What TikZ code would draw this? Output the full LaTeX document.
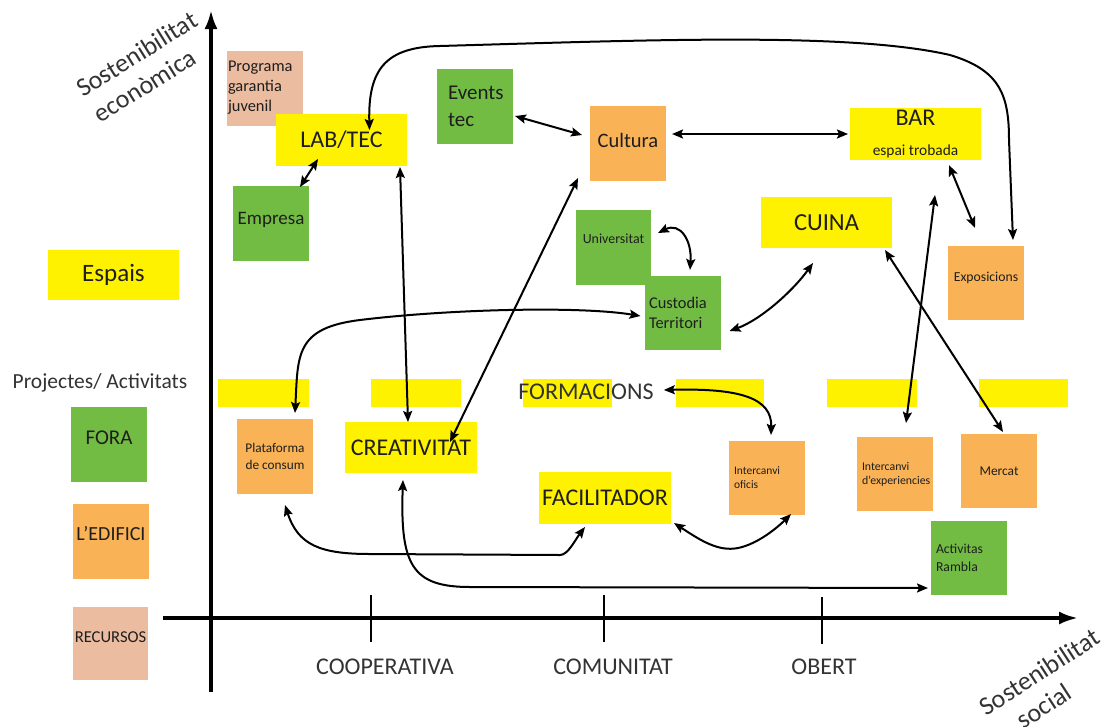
\documentclass[tikz,border=0pt]{standalone}
\usepackage{fontspec}
\setmainfont{Carlito}
\usetikzlibrary{arrows.meta,calc}
\definecolor{ylw}{HTML}{FFF200}
\definecolor{grn}{HTML}{72BC44}
\definecolor{org}{HTML}{F9B256}
\definecolor{pnk}{HTML}{ECBCA0}
\definecolor{txt}{HTML}{1E1E1E}
\definecolor{axtxt}{HTML}{333333}
\begin{document}
\begin{tikzpicture}[x=1pt,y=-1pt,
  every node/.style={text=txt},
  card/.style={inner sep=0pt, outer sep=0pt, minimum width=76pt, minimum height=75pt, align=center},
  wide/.style={inner sep=0pt, outer sep=0pt, minimum width=131pt, minimum height=52pt, fill=ylw, align=center},
  strip/.style={inner sep=0pt, outer sep=0pt, fill=ylw, minimum height=28pt},
  leftcard/.style={card, align=left},
  link/.style={draw=black, line width=2pt, {Stealth[length=11pt,width=9pt,inset=2pt]}-{Stealth[length=11pt,width=9pt,inset=2pt]}},
  axis/.style={line width=3.5pt, -{Latex[length=19pt,width=13pt]}},
  axtick/.style={line width=2.7pt},
  axlabel/.style={text=axtxt, font=\fontsize{24}{28}\selectfont}
]
\fill[white] (0,0) rectangle (1105,726);
\useasboundingbox (0,0) rectangle (1105,726);

% ---------- legend ----------
\node[wide, minimum height=50pt, font=\fontsize{25}{30}\selectfont] (espais) at (113.5,275) {Espais};
\node[text=axtxt, font=\fontsize{21.5}{26}\selectfont] (proj) at (100,383) {Projectes/ Activitats};
\node[card, fill=grn, font=\fontsize{21}{25}\selectfont, text depth=13pt] (fora) at (109,444.5) {FORA};
\node[card, fill=org, font=\fontsize{20}{24}\selectfont, text depth=17pt] (edif) at (111,541.5) {L’EDIFICI};
\node[card, fill=pnk, minimum width=75pt, minimum height=73pt, font=\fontsize{16.6}{20}\selectfont, text depth=13pt] (recur) at (110.5,643.5) {RECURSOS};

% ---------- axis titles ----------
\node[rotate=32, align=center, text=axtxt, font=\fontsize{26}{31}\selectfont] (ytitle) at (145,67) {Sostenibilitat\\econòmica\hspace*{20pt}};
\node[rotate=33, align=center, text=axtxt, font=\fontsize{26}{31}\selectfont] (xtitle) at (1048,685) {Sostenibilitat\\social\hspace*{30pt}};

% ---------- strips ----------
\node[strip, minimum width=91pt] (s1) at (263.5,393) {};
\node[strip, minimum width=90pt] (s2) at (416,393) {};
\node[strip, minimum width=89pt] (s3) at (567.5,393) {};
\node[strip, minimum width=88pt] (s4) at (720,393) {};
\node[strip, minimum width=90pt] (s5) at (872,393) {};
\node[strip, minimum width=89pt] (s6) at (1023.5,393) {};
\node[inner sep=0pt, text=axtxt, font=\fontsize{24}{28}\selectfont] (form) at (586,392) {FORMACIONS};

% ---------- main boxes ----------
\node[leftcard, fill=pnk, text width=74pt, inner xsep=1pt, font=\fontsize{16.4}{20}\selectfont] (prog) at (265,88) {Programa\\garantia\\juvenil};
\node[wide, font=\fontsize{24}{28}\selectfont] (lab) at (341.5,140) {LAB/TEC};
\node[card, fill=grn, font=\fontsize{19}{23}\selectfont, text depth=11pt] (emp) at (271,223.5) {Empresa};
\node[leftcard, fill=grn, text width=54pt, inner xsep=11pt, font=\fontsize{21}{27}\selectfont] (ev) at (475,106.5) {Events\\tec};
\node[card, fill=org, font=\fontsize{20.5}{24}\selectfont, text depth=6pt] (cult) at (628,143) {Cultura};
\node[wide, font=\fontsize{15.4}{30}\selectfont] (bar) at (915.5,134) {{\fontsize{24}{30}\selectfont BAR}\\espai trobada};
\node[card, fill=grn, minimum width=75pt, font=\fontsize{13.9}{17}\selectfont, text depth=17pt] (univ) at (613.5,247.5) {Universitat};
\node[leftcard, fill=grn, minimum height=74pt, text width=67pt, inner xsep=4pt, font=\fontsize{16.4}{19.5}\selectfont] (cust) at (682.5,313) {Custodia\\Territori};
\node[wide, minimum height=51pt, font=\fontsize{24.5}{28}\selectfont] (cuina) at (826.5,222.5) {CUINA};
\node[card, fill=org, minimum height=74pt, font=\fontsize{13.7}{16}\selectfont, text depth=12pt] (expo) at (986,283) {Exposicions};
\node[card, fill=org, font=\fontsize{13.3}{16.5}\selectfont] (plat) at (275,456.5) {Plataforma\\de consum};
\node[wide, minimum width=132pt, minimum height=51pt, font=\fontsize{24}{28}\selectfont] (creat) at (411,447.5) {CREATIVITAT};
\node[leftcard, fill=org, minimum height=74pt, text width=66pt, inner xsep=5pt, font=\fontsize{11.5}{14}\selectfont] (ioficis) at (767,478) {Intercanvi\\oficis};
\node[leftcard, fill=org, minimum height=74pt, text width=66pt, inner xsep=5pt, font=\fontsize{11.8}{14}\selectfont] (iexp) at (895,474) {Intercanvi\\d’experiencies};
\node[card, fill=org, minimum height=74pt, font=\fontsize{13.4}{16}\selectfont] (merc) at (999,471) {Mercat};
\node[wide, minimum width=132pt, font=\fontsize{24}{28}\selectfont] (fac) at (605,498) {FACILITADOR};
\node[leftcard, fill=grn, minimum height=74pt, text width=66pt, inner xsep=5pt, font=\fontsize{13.7}{18}\selectfont] (act) at (969,558) {Activitas\\Rambla};

% ---------- axes ----------
\coordinate (yorig) at (211,692);
\coordinate (ytip) at (211,10);
\coordinate (xorig) at (163,618);
\coordinate (xtip) at (1078,618);
\draw[axis] (yorig) -- (ytip);
\draw[axis] (xorig) -- (xtip);
\coordinate (t1a) at (371,595); \coordinate (t1b) at (371,642);
\coordinate (t2a) at (604,595); \coordinate (t2b) at (604,642);
\coordinate (t3a) at (822,597); \coordinate (t3b) at (822,644);
\draw[axtick] (t1a) -- (t1b);
\draw[axtick] (t2a) -- (t2b);
\draw[axtick] (t3a) -- (t3b);
\node[axlabel] (coop) at (385,667) {COOPERATIVA};
\node[axlabel] (comu) at (613,667) {COMUNITAT};
\node[axlabel] (obert) at (824,667) {OBERT};

% ---------- connectors ----------
\draw[link] ($(lab.north)+(28,16)$) .. controls (368,70) and (385,47) .. (440,46)
   .. controls (650,40) and (850,32) .. (950,55)
   .. controls (1000,70) and (1009,95) .. (1009,140) -- ($(expo.north)+(27,-6)$);
\draw[link] ($(lab.south)+(-23.5,-7)$) -- ($(emp.north)+(29,1)$);
\draw[link] ($(lab.south east)+(-7,1)$) -- ($(creat.north)+(-3,0)$);
\draw[link] ($(ev.east)+(2,9.5)$) -- ($(cult.west)+(-8,-8)$);
\draw[link] ($(cult.east)+(6,-9)$) -- ($(bar.west)+(-2,0)$);
\draw[link] ($(cult.south west)+(-12,-2.5)$) -- ($(creat.north)+(39,20)$);
\draw[link] ($(univ.east)+(7,-14.5)$) .. controls (680,222) and (692,240) .. ($(cust.north)+(7.5,-6)$);
\draw[link] ($(cust.east)+(9,18)$) .. controls (760,320) and (792,292) .. ($(cuina.south)+(-13.5,15)$);
\draw[link] ($(bar.south)+(33.5,5)$) -- ($(expo.north)+(-11,-18)$);
\draw[link] ($(bar.south)+(19.5,35)$) -- ($(iexp.north)+(11,-14)$);
\draw[link] ($(cuina.south east)+(-7,2)$) -- ($(merc.north)+(4,-2)$);
\draw[link] ($(plat.north)+(20,-6)$) .. controls (298,355) and (295,328) .. (360,320)
   .. controls (450,309) and (580,306) .. ($(cust.west)+(-4,3)$);
\draw[link] ($(form.east)+(10,-2)$) .. controls (740,388) and (772,398) .. ($(ioficis.north)+(4,-6)$);
\draw[link] ($(plat.south)+(10,11)$) .. controls (298,545) and (320,554) .. (370,554) -- (560,555)
   .. controls (568,555) and (575,540) .. ($(fac.south west)+(46,3)$);
\draw[link] ($(creat.south)+(-8,7)$) .. controls (400,565) and (412,587) .. (470,587) -- ($(act.west)+(-3,30)$);
\draw[link] ($(fac.south east)+(3,-1)$) .. controls (700,540) and (718,552) .. (738,548)
   .. controls (758,544) and (778,527) .. ($(ioficis.south)+(24,-1)$);
\end{tikzpicture}
\end{document}
